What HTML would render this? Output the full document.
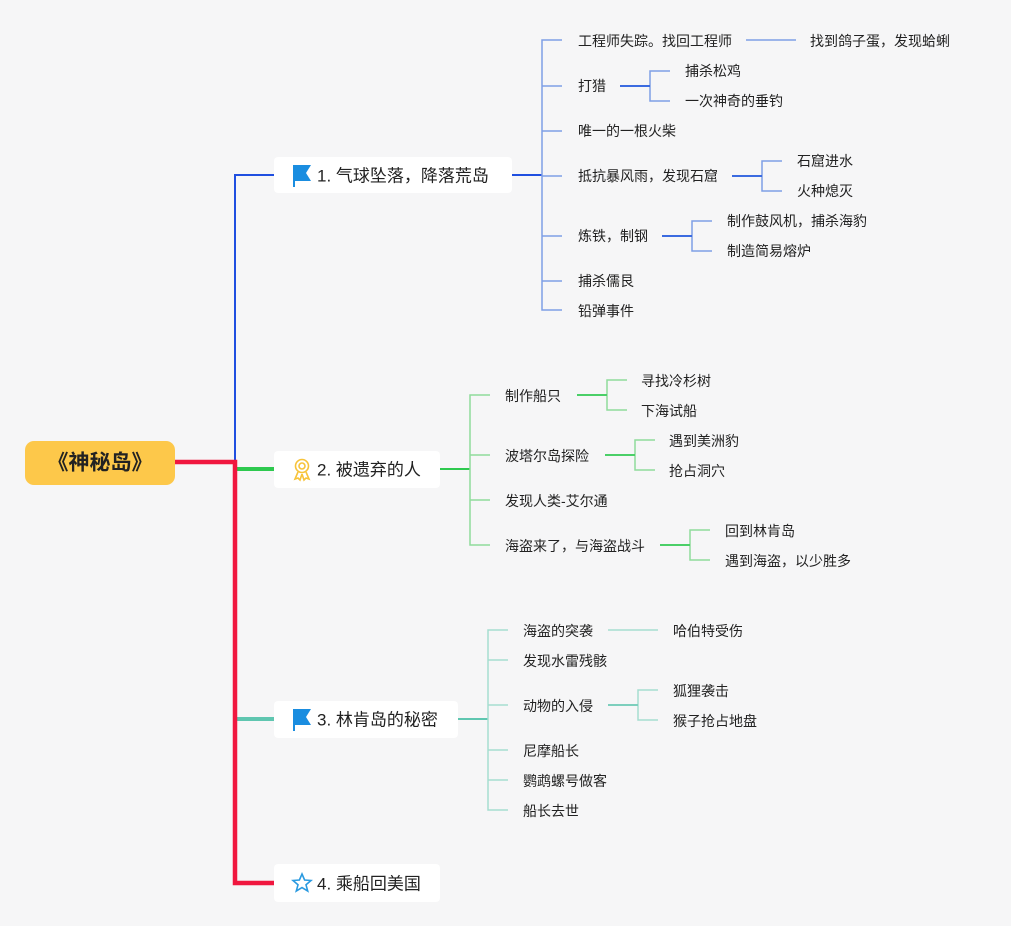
<!DOCTYPE html>
<html><head><meta charset="utf-8">
<style>
html,body{margin:0;padding:0;background:#f6f6f7;}
svg{display:block;}
text{font-family:"Liberation Sans","Noto Sans CJK SC",sans-serif;fill:#222;dominant-baseline:central;}
.s{font-size:14px;}
.m{font-size:17px;}
</style></head><body>
<svg width="1011" height="926" viewBox="0 0 1011 926" xmlns="http://www.w3.org/2000/svg">
<rect width="1011" height="926" fill="#f6f6f7"/>
<polyline points="235,462 235,175 274,175" fill="none" stroke="#1f4fe0" stroke-width="2"/>
<line x1="235" y1="469" x2="274" y2="469" stroke="#2ec94f" stroke-width="4"/>
<line x1="235" y1="719" x2="274" y2="719" stroke="#5fc6b0" stroke-width="4"/>
<polyline points="175,462 235,462 235,883 274,883" fill="none" stroke="#f0173f" stroke-width="4.5"/>
<rect x="25" y="441" width="150" height="44" rx="9" fill="#fdc84a"/>
<text x="100" y="463" text-anchor="middle" style="font-size:21px;font-weight:bold">《神秘岛》</text>
<rect x="274" y="157" width="238" height="36" rx="4" fill="#fff"/>
<rect x="274" y="451" width="166" height="37" rx="4" fill="#fff"/>
<rect x="274" y="701" width="184" height="37" rx="4" fill="#fff"/>
<rect x="274" y="864" width="166" height="38" rx="4" fill="#fff"/>
<path d="M293,165 h18 l-5,8 l5,8 h-16 v6 h-2z" fill="#1a8de0"/>
<path d="M293,709 h18 l-5,8 l5,8 h-16 v6 h-2z" fill="#1a8de0"/>
<g fill="none" stroke="#f7c33a" stroke-width="1.6"><circle cx="302" cy="466" r="6.5"/><circle cx="302" cy="466" r="3"/><path d="M298,472 l-3,7 l3,-1 l2,2 l2,-6 M306,472 l3,7 l-3,-1 l-2,2 l-2,-6"/></g>
<polygon points="302,874 304.6,880 311,880.5 306,884.8 307.7,891 302,887.6 296.3,891 298,884.8 293,880.5 299.4,880" fill="none" stroke="#2a9ae0" stroke-width="1.6"/>
<text class="m" x="317" y="176">1. 气球坠落，降落荒岛</text>
<text class="m" x="317" y="470">2. 被遗弃的人</text>
<text class="m" x="317" y="720">3. 林肯岛的秘密</text>
<text class="m" x="317" y="884">4. 乘船回美国</text>

<line x1="512" y1="175" x2="542" y2="175" stroke="#1f4fe0" stroke-width="2"/>
<g fill="none" stroke="#7f9fe6" stroke-width="1.5">
<polyline points="562,40 542,40 542,310 562,310"/>
<line x1="542" y1="86" x2="562" y2="86"/><line x1="542" y1="131" x2="562" y2="131"/>
<line x1="542" y1="176" x2="562" y2="176"/><line x1="542" y1="236" x2="562" y2="236"/>
<line x1="542" y1="281" x2="562" y2="281"/>
<line x1="746" y1="40" x2="796" y2="40"/>
<polyline points="670,71 650,71 650,101 670,101"/>
<polyline points="782,161 762,161 762,191 782,191"/>
<polyline points="712,221 692,221 692,251 712,251"/>
</g>
<g stroke="#3b6be0" stroke-width="2"><line x1="620" y1="86" x2="650" y2="86"/><line x1="732" y1="176" x2="762" y2="176"/><line x1="662" y1="236" x2="692" y2="236"/></g>
<text class="s" x="578" y="41">工程师失踪。找回工程师</text>
<text class="s" x="810" y="41">找到鸽子蛋，发现蛤蜊</text>
<text class="s" x="578" y="86">打猎</text>
<text class="s" x="685" y="71">捕杀松鸡</text>
<text class="s" x="685" y="101">一次神奇的垂钓</text>
<text class="s" x="578" y="131">唯一的一根火柴</text>
<text class="s" x="578" y="176">抵抗暴风雨，发现石窟</text>
<text class="s" x="797" y="161">石窟进水</text>
<text class="s" x="797" y="191">火种熄灭</text>
<text class="s" x="578" y="236">炼铁，制钢</text>
<text class="s" x="727" y="221">制作鼓风机，捕杀海豹</text>
<text class="s" x="727" y="251">制造简易熔炉</text>
<text class="s" x="578" y="281">捕杀儒艮</text>
<text class="s" x="578" y="311">铅弹事件</text>

<line x1="440" y1="469" x2="470" y2="469" stroke="#2ec94f" stroke-width="2"/>
<g fill="none" stroke="#8fdc9c" stroke-width="1.5">
<polyline points="490,395 470,395 470,545 490,545"/>
<line x1="470" y1="455" x2="490" y2="455"/><line x1="470" y1="500" x2="490" y2="500"/>
<polyline points="627,380 607,380 607,410 627,410"/>
<polyline points="655,440 635,440 635,470 655,470"/>
<polyline points="710,530 690,530 690,560 710,560"/>
</g>
<g stroke="#4bcf68" stroke-width="2"><line x1="577" y1="395" x2="607" y2="395"/><line x1="605" y1="455" x2="635" y2="455"/><line x1="660" y1="545" x2="690" y2="545"/></g>
<text class="s" x="505" y="396">制作船只</text>
<text class="s" x="641" y="381">寻找冷杉树</text>
<text class="s" x="641" y="411">下海试船</text>
<text class="s" x="505" y="456">波塔尔岛探险</text>
<text class="s" x="669" y="441">遇到美洲豹</text>
<text class="s" x="669" y="471">抢占洞穴</text>
<text class="s" x="505" y="501">发现人类-艾尔通</text>
<text class="s" x="505" y="546">海盗来了，与海盗战斗</text>
<text class="s" x="725" y="531">回到林肯岛</text>
<text class="s" x="725" y="561">遇到海盗，以少胜多</text>

<line x1="458" y1="719" x2="488" y2="719" stroke="#5fc6b0" stroke-width="2"/>
<g fill="none" stroke="#a6ddd0" stroke-width="1.5">
<polyline points="508,630 488,630 488,810 508,810"/>
<line x1="488" y1="660" x2="508" y2="660"/><line x1="488" y1="705" x2="508" y2="705"/>
<line x1="488" y1="750" x2="508" y2="750"/><line x1="488" y1="780" x2="508" y2="780"/>
<line x1="608" y1="630" x2="658" y2="630"/>
<polyline points="658,690 638,690 638,720 658,720"/>
</g>
<line x1="608" y1="705" x2="638" y2="705" stroke="#7dcfbd" stroke-width="2"/>
<text class="s" x="523" y="631">海盗的突袭</text>
<text class="s" x="673" y="631">哈伯特受伤</text>
<text class="s" x="523" y="661">发现水雷残骸</text>
<text class="s" x="523" y="706">动物的入侵</text>
<text class="s" x="673" y="691">狐狸袭击</text>
<text class="s" x="673" y="721">猴子抢占地盘</text>
<text class="s" x="523" y="751">尼摩船长</text>
<text class="s" x="523" y="781">鹦鹉螺号做客</text>
<text class="s" x="523" y="811">船长去世</text>
</svg>
</body></html>
